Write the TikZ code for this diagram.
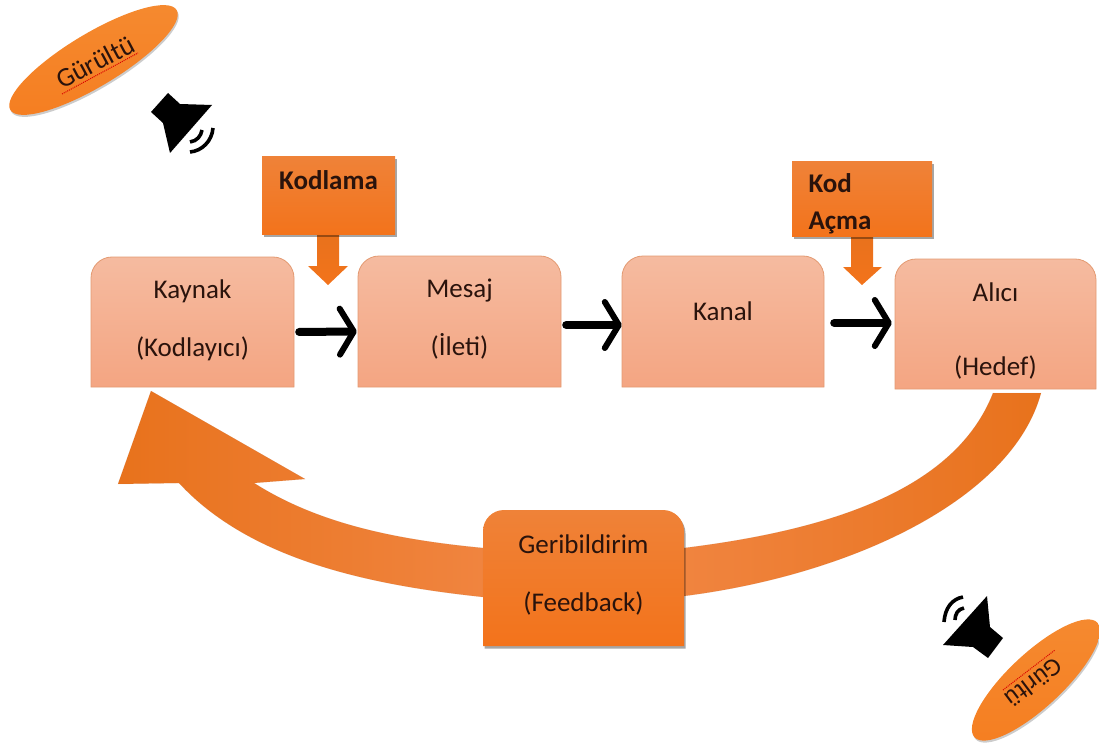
\documentclass[tikz,border=0pt]{standalone}
\usepackage{fontspec}
\setmainfont{Carlito}
\usetikzlibrary{arrows.meta,shapes.geometric,shadows,calc}
\definecolor{inktext}{HTML}{2A130C}
\definecolor{lightedge}{HTML}{E39A72}
\definecolor{lighttop}{HTML}{F5BBA0}
\definecolor{lightbot}{HTML}{F4A582}
\definecolor{darktop}{HTML}{EF8238}
\definecolor{darkbot}{HTML}{F3731B}
\definecolor{bandlight}{HTML}{F0843F}
\definecolor{banddark}{HTML}{E8721C}
\definecolor{noisetop}{HTML}{F58A30}
\definecolor{noisebot}{HTML}{F57F22}
\newcommand\lift[2]{\raisebox{#1}[0pt][0pt]{\begin{tabular}{@{}c@{}}#2\end{tabular}}}
\newcommand\upperbox[5][lightshape]{%
  \path[#1] (#2,#5) [rounded corners=21pt] -- (#2,#3) -- (#4,#3) [sharp corners] -- (#4,#5) -- cycle;}
\tikzset{
  x=1pt,y=-1pt,
  lightshape/.style={draw=lightedge,line width=0.8pt,top color=lighttop,bottom color=lightbot},
  darkshape/.style={top color=darktop,bottom color=darkbot,drop shadow={shadow xshift=1.5pt,shadow yshift=-2.5pt,opacity=0.35,fill=black}},
  labelbox/.style={rectangle,inner sep=0pt,text=inktext,font=\fontsize{27}{31}\selectfont},
  strongbox/.style={labelbox,font=\fontsize{27}{31}\selectfont\bfseries},
  flowline/.style={line width=8pt,line cap=round,-{Straight Barb[length=14pt,width=46pt,line width=6pt,round]}},
  noisebody/.style={ellipse,inner sep=0pt,top color=noisetop,bottom color=noisebot,text=inktext,
     drop shadow={shadow xshift=1pt,shadow yshift=-2pt,opacity=0.2,fill=black}},
  noiseword/.style={inner sep=0pt,text=inktext},
  squiggle/.style={red!85!black,line width=1pt,densely dotted},
  sound/.style={line width=3.6pt},
}
\begin{document}
\begin{tikzpicture}
\useasboundingbox (0,0) rectangle (1099,751);
% feedback band
\path[left color=banddark,right color=bandlight,draw=bandlight!80!black,draw opacity=0.25]
  (151,391) -- (118,484) -- (179,483)
  .. controls (250,560) and (370,585) .. (483,597)
  -- (483,548)
  .. controls (400,540) and (320,525) .. (254,483)
  -- (305,479) -- cycle;
\path[left color=bandlight,right color=banddark,draw=bandlight!80!black,draw opacity=0.25]
  (684,548) .. controls (830,530) and (955,490) .. (993,393)
  -- (1041,393)
  .. controls (1012,500) and (850,575) .. (684,596)
  -- cycle;
% main boxes
\upperbox{91}{257}{294}{387}
\upperbox{358}{256}{561}{387}
\upperbox{622}{256}{824}{387}
\upperbox{895}{259}{1096}{389}
\node[labelbox,minimum width=203pt,minimum height=130pt] (kaynak) at (192.5,322) {\lift{-6pt}{Kaynak\\[27pt](Kodlayıcı)}};
\node[labelbox,minimum width=203pt,minimum height=131pt] (mesaj) at (459.5,321.5) {\lift{-5pt}{Mesaj\\[27pt](İleti)}};
\node[labelbox,minimum width=202pt,minimum height=131pt] (kanal) at (723,321.5) {\lift{1pt}{Kanal}};
\node[labelbox,minimum width=201pt,minimum height=130pt] (alici) at (995.5,324) {\lift{-15pt}{Alıcı\\[43pt](Hedef)}};
% flow arrows
\draw[flowline,shorten <=5pt,shorten >=1pt] ([yshift=-10pt]kaynak.east) -- ([yshift=-10pt]mesaj.west);
\draw[flowline,shorten <=5pt,shorten >=0pt] ([yshift=-3.5pt]mesaj.east) -- ([yshift=-3.5pt]kanal.west);
\draw[flowline,shorten <=10pt,shorten >=3pt] ([yshift=-1.5pt]kanal.east) -- ([yshift=1pt]alici.west);
% callouts
\path[top color=banddark,bottom color=darkbot]
  (317,232) -- (339,232) -- (339,266) -- (348,266) -- (328,285) -- (308,266) -- (317,266) -- cycle;
\path[top color=banddark,bottom color=darkbot]
  (851,234) -- (873,234) -- (873,267) -- (882,267) -- (862,285) -- (843,267) -- (851,267) -- cycle;
\path[darkshape] (262,157) rectangle (395,235);
\path[darkshape] (792,162) rectangle (932,237);
\node[strongbox,minimum width=133pt,minimum height=78pt] (kodlama) at (328.5,196) {\lift{-19pt}{\strut Kodlama\\[20pt]\strut}};
\node[strongbox,minimum width=140pt,minimum height=75pt] (kodacma) at (862,199.5) {\hspace{-44pt}\lift{-12pt}{\begin{tabular}{@{}l@{}}Kod\\[6pt]Açma\end{tabular}}};
% feedback box
\path[darkshape] (483,646) [rounded corners=21pt] -- (483,510) -- (684,510) [sharp corners] -- (684,646) -- cycle;
\node[labelbox,minimum width=201pt,minimum height=136pt] (geri) at (583.5,578) {\lift{-5pt}{Geribildirim\\[27pt](Feedback)}};
% noise ellipses
\node[noisebody,rotate=31,minimum width=194pt,minimum height=53pt] (noiseA) at (93.5,60) {};
\node[noiseword,rotate=28,font=\fontsize{27}{30}\selectfont] (noiseAtext) at (95,62) {Gürültü};
\draw[squiggle] (62,94) -- (138,53);
\node[noisebody,rotate=43,minimum width=168pt,minimum height=54pt] (noiseB) at (1036,680) {};
\node[noiseword,rotate=217,font=\fontsize{25}{28}\selectfont] (noiseBtext) at (1034,683) {Gürltü};
\draw[squiggle] (1003,690) -- (1055,650);
% speakers
\fill[black] (168,93) -- (151,112) -- (163,123) -- (170,153) -- (212,105) -- (180,104) -- cycle;
\draw[sound] (190,142) .. controls (197,141) and (201,136) .. (202,130);
\draw[sound] (190,152) .. controls (202,151) and (212,141) .. (213,128);
\fill[black] (987,596) -- (943,645) -- (973,647) -- (988,658) -- (1003,638) -- (990,627) -- cycle;
\draw[sound] (955,620) .. controls (955,614) and (958,609) .. (964,608);
\draw[sound] (944,622) .. controls (945,608) and (952,599) .. (963,597);
\end{tikzpicture}
\end{document}
